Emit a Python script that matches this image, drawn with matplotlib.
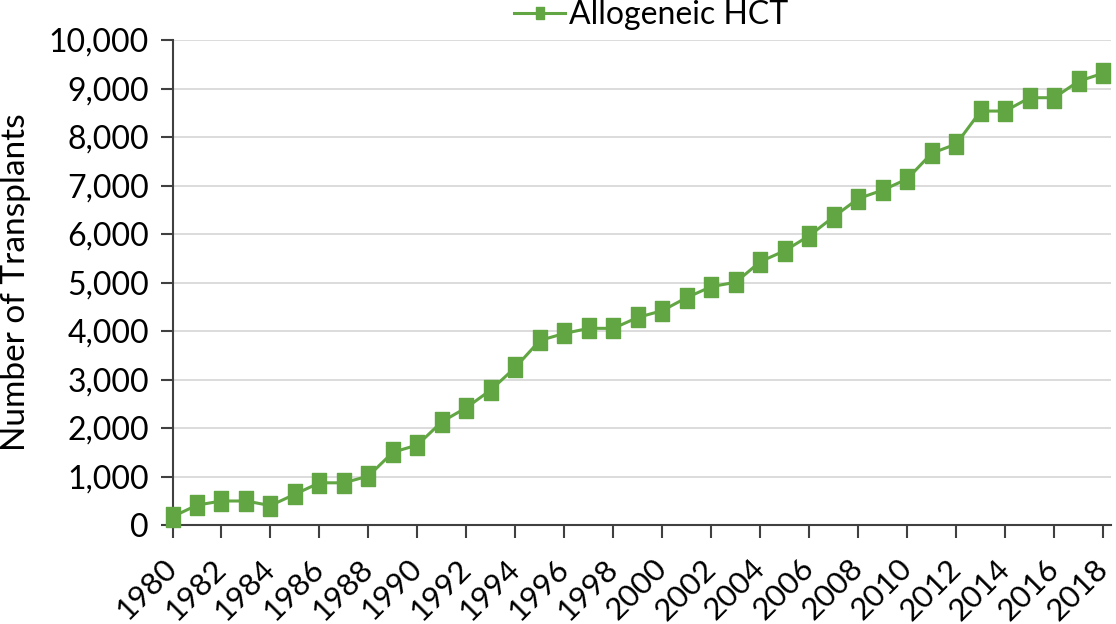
import matplotlib.pyplot as plt
from matplotlib.ticker import FuncFormatter

years = list(range(1980, 2019))
allo_hct = [170, 410, 495, 495, 400, 635, 870, 870, 1010, 1500, 1650,
            2130, 2420, 2785, 3250, 3805, 3950, 4055, 4055, 4280, 4420,
            4690, 4915, 5005, 5430, 5655, 5965, 6355, 6730, 6905, 7135,
            7665, 7855, 8535, 8535, 8810, 8810, 9150, 9315]
xlabels = [str(y) for y in range(1980, 2019, 2)]

verde = '#62a644'
gris = '#404040'

plt.rcParams['font.family'] = ['Lato', 'DejaVu Sans']

fig = plt.figure(figsize=(11.16, 6.24), dpi=100)
ax = fig.add_axes([172.5/1116, 1 - 525/624, (1111 - 172.5)/1116, (525 - 40)/624])

rect = [(-0.68, -1), (0.68, -1), (0.68, 1), (-0.68, 1), (-0.68, -1)]
ax.plot(years, allo_hct, color=verde, lw=2.2, marker=rect, ms=14,
        mec=verde, mfc=verde, label='Allogeneic HCT', clip_on=False, zorder=3)

ax.set_xlim(1980, 2018.32)
ax.set_ylim(0, 10000)
ax.set_yticks(range(0, 10001, 1000))
ax.yaxis.set_major_formatter(FuncFormatter(lambda v, p: f'{int(v):,}'))
ax.set_xticks(range(1980, 2019, 2))
ax.set_xticklabels(xlabels, rotation=45, ha='right', va='center',
                   rotation_mode='anchor')

ax.grid(axis='y', color='#d9d9d9', lw=1.3)
ax.set_axisbelow(True)
for s in ['top', 'right']:
    ax.spines[s].set_visible(False)
for s in ['left', 'bottom']:
    ax.spines[s].set_color(gris)
    ax.spines[s].set_linewidth(1.5)
ax.tick_params(axis='both', colors=gris, width=1.5, length=9,
               labelsize=23, labelcolor='black')
ax.tick_params(axis='x', pad=19, labelsize=22.5)
ax.tick_params(axis='y', pad=8)

ax.set_ylabel('Number of Transplants', fontsize=24)
ax.yaxis.set_label_coords(-0.151, 0.5)

ax.legend(loc='center', bbox_to_anchor=(0.51, 1.052),
          frameon=False, fontsize=23, handlelength=1.6, handletextpad=0.1,
          markerscale=0.6, borderaxespad=0, borderpad=0)

plt.savefig('out.png', dpi=100)
